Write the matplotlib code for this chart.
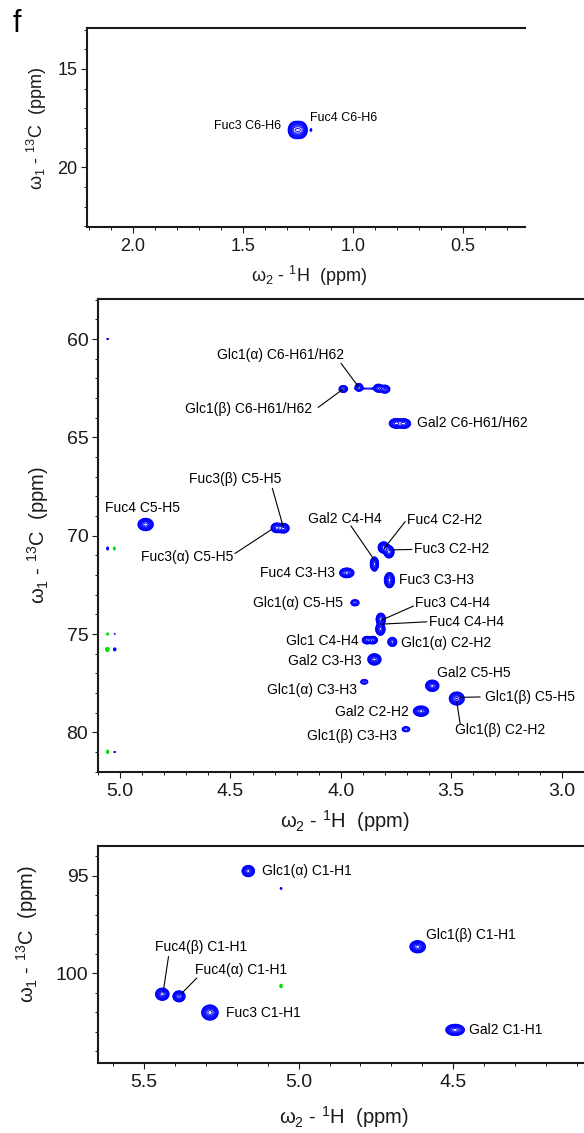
import numpy as np
import matplotlib.pyplot as plt
from matplotlib.ticker import MultipleLocator, FormatStrFormatter

plt.rcParams['font.family'] = ['Liberation Sans', 'DejaVu Sans']
plt.rcParams['mathtext.fontset'] = 'custom'
plt.rcParams['mathtext.rm'] = 'Liberation Sans'
plt.rcParams['mathtext.it'] = 'Liberation Sans:italic'

W, H = 584, 1133
BLUE = '#0000ff'
GREEN = '#00e000'
INK = '#1a1a1a'

# peak tables: 1H shift, 13C shift, 1H width, 13C width, intensity (negative = green)
top_h = [1.262, 1.238, 1.19]
top_c = [18.1, 18.1, 18.1]
top_wh = [0.0125, 0.0125, 0.003]
top_wc = [0.17, 0.17, 0.05]
top_amp = [1.0, 1.0, 0.1]

mid_h = [3.989, 3.918, 3.830, 3.800, 3.870,
         3.750, 3.715, 4.884, 4.290, 4.260,
         3.848, 3.806, 3.782, 3.973, 3.780,
         3.936, 3.819, 3.821, 3.882, 3.855,
         3.767, 3.848, 3.894, 3.586, 3.475,
         3.637, 3.705,
         5.056, 5.056, 5.026, 5.056, 5.024, 5.057, 5.024, 5.056, 5.024]
mid_c = [62.54, 62.46, 62.50, 62.55, 62.52,
         64.29, 64.30, 69.43, 69.60, 69.62,
         71.44, 70.60, 70.82, 71.89, 72.26,
         73.41, 74.25, 74.75, 75.31, 75.31,
         75.40, 76.29, 77.43, 77.63, 78.28,
         78.92, 79.84,
         60.00, 70.65, 70.65, 75.00, 75.00, 75.78, 75.78, 80.99, 81.00]
mid_wh = [0.0092, 0.0085, 0.0100, 0.0100, 0.045,
          0.0130, 0.0130, 0.0138, 0.0110, 0.0110,
          0.0075, 0.0100, 0.0092, 0.0138, 0.0092,
          0.0100, 0.0085, 0.0085, 0.0092, 0.0092,
          0.0092, 0.0120, 0.0100, 0.0120, 0.0138,
          0.0138, 0.0100,
          0.003, 0.003, 0.003, 0.0035, 0.002, 0.004, 0.004, 0.0035, 0.003]
mid_wc = [0.085, 0.095, 0.095, 0.095, 0.035,
          0.105, 0.105, 0.125, 0.105, 0.105,
          0.145, 0.115, 0.125, 0.105, 0.155,
          0.085, 0.125, 0.125, 0.085, 0.085,
          0.105, 0.115, 0.075, 0.115, 0.135,
          0.105, 0.075,
          0.03, 0.06, 0.06, 0.04, 0.02, 0.05, 0.05, 0.07, 0.03]
mid_amp = [0.4, 0.4, 0.45, 0.45, 0.055,
           0.7, 0.7, 1.0, 0.7, 0.7,
           1.0, 1.0, 1.0, 0.7, 1.0,
           0.25, 1.0, 1.0, 0.6, 0.6,
           0.5, 1.0, 0.16, 1.0, 0.9,
           1.0, 0.2,
           0.08, 0.1, -0.1, -0.1, 0.07, -0.3, 0.12, -0.1, 0.08]

bot_h = [5.163, 5.057, 5.057, 5.441, 5.387, 5.287, 4.615, 4.494]
bot_c = [94.76, 95.65, 100.65, 101.07, 101.18, 102.01, 98.64, 102.90]
bot_wh = [0.0080, 0.0025, 0.003, 0.0087, 0.0080, 0.0106, 0.0100, 0.0120]
bot_wc = [0.115, 0.04, 0.07, 0.125, 0.115, 0.155, 0.125, 0.115]
bot_amp = [1.0, 0.08, -0.1, 1.0, 0.9, 1.0, 1.0, 1.0]

# assignments: text, 1H, 13C, alignment
top_labels = [('Fuc3 C6-H6', 1.326, 17.88, 'right'),
              ('Fuc4 C6-H6', 1.194, 17.49, 'left')]

mid_labels = [('Glc1(α) C6-H61/H62', 4.271, 60.81, 'center'),
              ('Glc1(β) C6-H61/H62', 4.419, 63.58, 'center'),
              ('Gal2 C6-H61/H62', 3.654, 64.26, 'left'),
              ('Fuc4 C5-H5', 4.900, 68.61, 'center'),
              ('Fuc3(β) C5-H5', 4.477, 67.14, 'center'),
              ('Fuc3(α) C5-H5', 4.694, 71.07, 'center'),
              ('Gal2 C4-H4', 3.980, 69.17, 'center'),
              ('Fuc4 C2-H2', 3.699, 69.20, 'left'),
              ('Fuc3 C2-H2', 3.668, 70.70, 'left'),
              ('Fuc3 C3-H3', 3.736, 72.26, 'left'),
              ('Fuc4 C3-H3', 4.026, 71.89, 'right'),
              ('Glc1(α) C5-H5', 3.989, 73.41, 'right'),
              ('Fuc3 C4-H4', 3.664, 73.41, 'left'),
              ('Fuc4 C4-H4', 3.600, 74.38, 'left'),
              ('Glc1 C4-H4', 3.921, 75.35, 'right'),
              ('Glc1(α) C2-H2', 3.729, 75.45, 'left'),
              ('Gal2 C3-H3', 3.905, 76.36, 'right'),
              ('Glc1(α) C3-H3', 3.928, 77.82, 'right'),
              ('Gal2 C5-H5', 3.563, 77.00, 'left'),
              ('Glc1(β) C5-H5', 3.347, 78.19, 'left'),
              ('Glc1(β) C2-H2', 3.278, 79.89, 'center'),
              ('Gal2 C2-H2', 3.691, 78.96, 'right'),
              ('Glc1(β) C3-H3', 3.744, 80.18, 'right')]

mid_leaders = [(3.999, 61.24, 3.918, 62.46),
               (4.102, 63.47, 3.989, 62.54),
               (4.310, 67.60, 4.260, 69.58),
               (4.479, 70.90, 4.313, 69.68),
               (3.954, 69.51, 3.848, 71.24),
               (3.709, 69.29, 3.804, 70.65),
               (3.679, 70.70, 3.762, 70.72),
               (3.672, 73.58, 3.815, 74.29),
               (3.611, 74.38, 3.822, 74.50),
               (3.370, 78.20, 3.460, 78.22),
               (3.460, 79.55, 3.475, 78.45)]

bot_labels = [('Glc1(α) C1-H1', 5.118, 94.76, 'left'),
              ('Fuc4(β) C1-H1', 5.315, 98.67, 'center'),
              ('Fuc4(α) C1-H1', 5.185, 99.83, 'center'),
              ('Fuc3 C1-H1', 5.236, 102.01, 'left'),
              ('Glc1(β) C1-H1', 4.589, 98.04, 'left'),
              ('Gal2 C1-H1', 4.448, 102.90, 'left')]

bot_leaders = [(5.421, 99.15, 5.438, 100.94),
               (5.330, 100.25, 5.378, 101.02)]

levels = 0.04 * 1.4 ** np.arange(11)


def px_box(x0, y0, x1, y1):
    # pixel box (left, top, right, bottom) -> figure fraction rect
    return [x0 / W, 1 - y1 / H, (x1 - x0) / W, (y1 - y0) / H]


def draw_spectrum(ax, h, c, wh, wc, amp, xlim, ylim, nx, ny):
    x = np.linspace(min(xlim), max(xlim), nx)
    y = np.linspace(min(ylim), max(ylim), ny)
    X, Y = np.meshgrid(x, y)
    Z = np.zeros_like(X)
    for ph, pc, sh, sc, a in zip(h, c, wh, wc, amp):
        Z += a * np.exp(-0.5 * ((X - ph) / sh) ** 2 - 0.5 * ((Y - pc) / sc) ** 2)
    ax.contour(X, Y, Z, levels=levels, colors=BLUE, linewidths=0.65)
    if Z.min() < -levels[0]:
        ax.contour(X, Y, -Z, levels=levels, colors=GREEN, linewidths=0.65)
    ax.set_xlim(xlim)
    ax.set_ylim(ylim)


def style_axes(ax, fs, ymajor):
    ax.xaxis.set_major_locator(MultipleLocator(0.5))
    ax.xaxis.set_minor_locator(MultipleLocator(0.1))
    ax.xaxis.set_major_formatter(FormatStrFormatter('%.1f'))
    ax.yaxis.set_major_locator(MultipleLocator(ymajor))
    ax.yaxis.set_minor_locator(MultipleLocator(1))
    ax.tick_params(which='major', direction='out', length=4.3, width=0.8,
                   color=INK, labelsize=fs, labelcolor=INK)
    ax.tick_params(which='minor', direction='out', length=2.4, width=0.7, color=INK)
    ax.tick_params(axis='x', pad=3.5)
    ax.tick_params(axis='y', pad=2.5)
    for s in ['left', 'bottom', 'top']:
        ax.spines[s].set_linewidth(1.5)
        ax.spines[s].set_color(INK)
    ax.spines['right'].set_visible(False)


def annotate(ax, labels, leaders, fs):
    for x0, y0, x1, y1 in leaders:
        ax.plot([x0, x1], [y0, y1], color='k', lw=0.8)
    for txt, x, y, ha in labels:
        ax.text(x, y, txt, ha=ha, va='center', fontsize=fs, color='k')


def fig_label(x, y, txt, fs, rot=0):
    fig.text(x / W, 1 - y / H, txt, ha='center', va='center',
             fontsize=fs, rotation=rot, color=INK)


fig = plt.figure(figsize=(W / 100, H / 100), dpi=100)

# top panel: methyl region
ax1 = fig.add_axes(px_box(87, 28, 525, 227))
draw_spectrum(ax1, top_h, top_c, top_wh, top_wc, top_amp,
              (2.208, 0.217), (23.03, 12.92), 900, 500)
style_axes(ax1, 13, 5)
annotate(ax1, top_labels, [], 9)

# middle panel: ring region
ax2 = fig.add_axes(px_box(97.7, 299.3, 584, 772.3))
draw_spectrum(ax2, mid_h, mid_c, mid_wh, mid_wc, mid_amp,
              (5.101, 2.899), (82.03, 57.98), 1400, 1300)
style_axes(ax2, 14, 5)
annotate(ax2, mid_labels, mid_leaders, 10)

# bottom panel: anomeric region
ax3 = fig.add_axes(px_box(97.7, 845.7, 584, 1062.7))
draw_spectrum(ax3, bot_h, bot_c, bot_wh, bot_wc, bot_amp,
              (5.65, 4.077), (104.58, 93.46), 1200, 800)
style_axes(ax3, 14, 5)
annotate(ax3, bot_labels, bot_leaders, 10)

ylab = r'$\mathregular{\omega_1}$ - $\mathregular{^{13}}$C  (ppm)'
xlab = r'$\mathregular{\omega_2}$ - $\mathregular{^{1}}$H  (ppm)'
fig_label(36.5, 128, ylab, 13, 90)
fig_label(308.7, 276, xlab, 13)
fig_label(38.5, 535.5, ylab, 14.5, 90)
fig_label(344.7, 821, xlab, 14.5)
fig_label(27.5, 934, ylab, 14.5, 90)
fig_label(343.8, 1117, xlab, 14.5)

fig.text(17 / W, 1 - 24 / H, 'f', ha='center', va='center', fontsize=22, color='k')

fig.savefig('out.png', dpi=100)
